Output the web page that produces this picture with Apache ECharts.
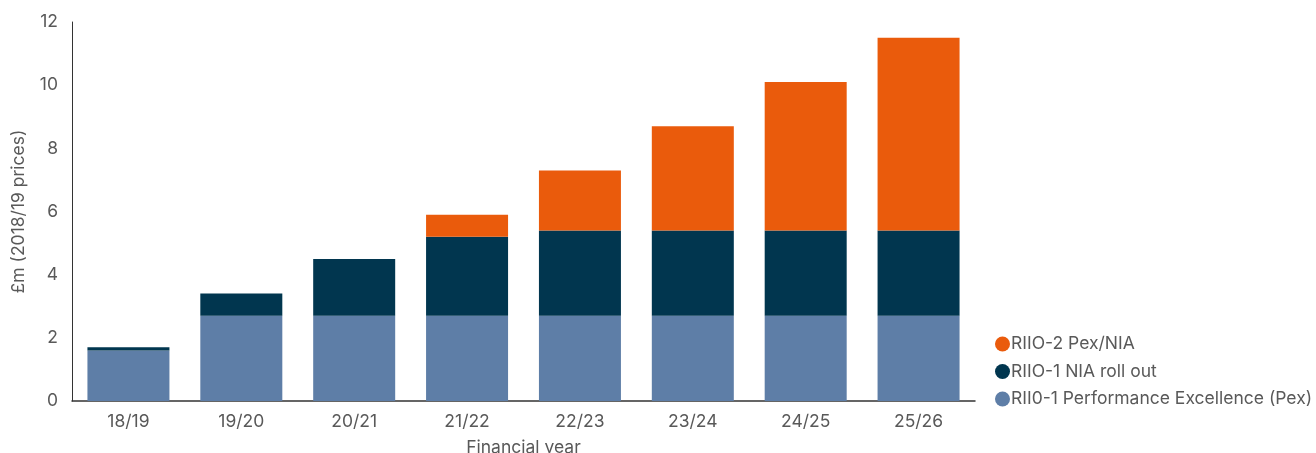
<!DOCTYPE html>
<html>
<head>
<meta charset="utf-8">
<script src="https://cdn.jsdelivr.net/npm/echarts@6/dist/echarts.min.js"></script>
<style>html,body{margin:0;padding:0;background:#fff;}#c{width:1316px;height:453px;}</style>
</head>
<body>
<div id="c"></div>
<script>
var categories = ['18/19','19/20','20/21','21/22','22/23','23/24','24/25','25/26'];
var pex = [1.6, 2.7, 2.7, 2.7, 2.7, 2.7, 2.7, 2.7];
var niaRollOut = [0.1, 0.7, 1.8, 2.5, 2.7, 2.7, 2.7, 2.7];
var riio2 = [0, 0, 0, 0.7, 1.9, 3.3, 4.7, 6.1];
var yTicks = [0, 2, 4, 6, 8, 10, 12];

var chart = echarts.init(document.getElementById('c'));
var font = 'Inter, "Noto Sans", sans-serif';
var fs = 17.5;
chart.setOption({
  animation: false,
  textStyle: {fontFamily: font},
  grid: {left: 72, right: 341, top: 22, bottom: 52, containLabel: false, outerBoundsMode: 'none'},
  legend: {
    orient: 'vertical', left: 990, top: 330, itemGap: 9.5,
    icon: 'circle', itemWidth: 15, itemHeight: 15,
    textStyle: {fontSize: fs, lineHeight: 18, color: '#595959', fontFamily: font, padding: [0,0,0,-4]},
    data: ['RIIO-2 Pex/NIA', 'RIIO-1 NIA roll out', 'RII0-1 Performance Excellence (Pex)']
  },
  xAxis: {
    type: 'category', data: categories,
    name: 'Financial year', nameLocation: 'middle', nameGap: 38,
    nameTextStyle: {fontSize: fs, color: '#595959'},
    axisLine: {lineStyle: {color: '#333', width: 1.5}},
    axisTick: {show: false},
    axisLabel: {fontSize: fs, color: '#595959', margin: 12}
  },
  yAxis: {
    type: 'value', min: yTicks[0], max: yTicks[yTicks.length-1], interval: 2,
    name: '£m (2018/19 prices)', nameLocation: 'middle', nameGap: 44,
    nameTextStyle: {fontSize: fs, color: '#595959'},
    axisLine: {show: true, lineStyle: {color: '#333', width: 1}},
    axisTick: {show: false},
    splitLine: {show: false},
    axisLabel: {fontSize: fs, color: '#595959', margin: 14}
  },
  series: [
    {name: 'RII0-1 Performance Excellence (Pex)', type: 'bar', stack: 's', data: pex, barWidth: 82, itemStyle: {color: '#5E7EA7'}},
    {name: 'RIIO-1 NIA roll out', type: 'bar', stack: 's', data: niaRollOut, barWidth: 82, itemStyle: {color: '#01364F'}},
    {name: 'RIIO-2 Pex/NIA', type: 'bar', stack: 's', data: riio2, barWidth: 82, itemStyle: {color: '#EA5B0C'}}
  ]
});
</script>
</body>
</html>
